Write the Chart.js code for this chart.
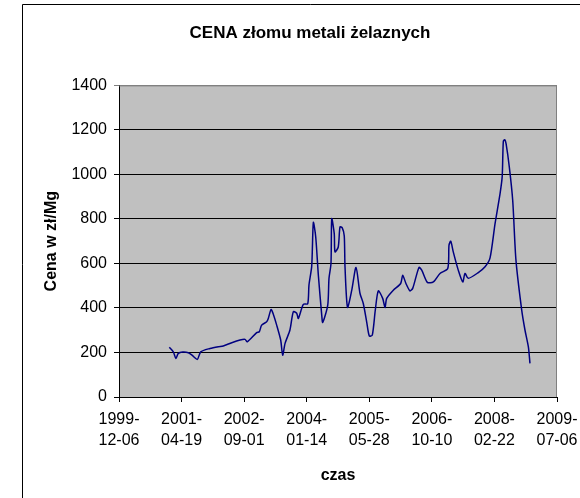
<!DOCTYPE html>
<html>
<head>
<meta charset="utf-8">
<script src="https://cdn.jsdelivr.net/npm/chart.js@4/dist/chart.umd.min.js"></script>
<style>
  html, body { margin: 0; padding: 0; background: #fff; overflow: hidden; width: 580px; height: 498px; }
  #wrap { position: absolute; left: 22px; top: 4px; width: 576px; height: 520px; }
  canvas { display: block; }
</style>
</head>
<body>
<div id="wrap"><canvas id="c" width="576" height="520"></canvas></div>
<script>
// Excel date serial numbers (days since 1899-12-30)
const daySerial = [36902,36934,36955,36974,37009,37054,37083,37126,37153,37227,
  37294,37333,37401,37467,37507,37525,37600,37621,37640,37680,
  37693,37715,37733,37760,37792,37808,37827,37866,37893,37920,
  37933,37973,38008,38018,38040,38053,38072,38093,38120,38128,
  38168,38178,38194,38200,38220,38226,38252,38266,38284,38300,
  38306,38326,38360,38394,38426,38452,38479,38500,38524,38548,
  38572,38607,38626,38639,38692,38751,38767,38793,38825,38847,
  38897,38919,38964,39012,39065,39127,39137,39151,39171,39211,
  39247,39265,39291,39371,39425,39465,39505,39545,39562,39571,
  39582,39593,39619,39646,39672,39718,39744,39771,39784];
// Cena w zł/Mg
const prices = [223,203,173,196,202,199,188,169,203,218,
  226,229,244,256,259,248,289,293,323,338,
  353,393,372,323,256,188,241,301,383,376,
  353,416,419,503,588,784,719,547,368,335,
  413,533,600,801,734,652,674,764,760,724,
  585,403,480,582,465,420,338,274,278,390,
  477,443,402,443,480,510,547,510,477,488,
  582,570,515,517,555,577,682,700,652,570,
  517,555,533,559,585,625,779,914,990,1148,
  1156,1138,1033,884,615,390,301,226,151];
const xTickValues = [36500,37000,37500,38000,38500,39000,39500,40000];
const xTickLabels = [["1999-","12-06"],["2001-","04-19"],["2002-","09-01"],["2004-","01-14"],
  ["2005-","05-28"],["2006-","10-10"],["2008-","02-22"],["2009-","07-06"]];
const yTicks = [0,200,400,600,800,1000,1200,1400];

const FONT = "'Liberation Sans', Arial, sans-serif";

const bgPlugin = {
  id: 'bg',
  beforeDraw(chart) {
    const {ctx, chartArea: a} = chart;
    ctx.save();
    ctx.fillStyle = '#fff';
    ctx.fillRect(0, 0, chart.width, chart.height);
    ctx.fillStyle = '#c0c0c0';
    ctx.fillRect(a.left, a.top, a.right - a.left, a.bottom - a.top);
    ctx.strokeStyle = '#000';
    ctx.lineWidth = 1;
    ctx.beginPath();
    ctx.moveTo(0.5, chart.height);
    ctx.lineTo(0.5, 0.5);
    ctx.lineTo(chart.width, 0.5);
    ctx.stroke();
    ctx.restore();
  },
  afterDatasetsDraw(chart) {
    const {ctx, chartArea: a} = chart;
    ctx.save();
    ctx.strokeStyle = '#808080';
    ctx.lineWidth = 1;
    ctx.beginPath();
    ctx.moveTo(a.left, a.top + 0.5);
    ctx.lineTo(a.right - 0.5, a.top + 0.5);
    ctx.lineTo(a.right - 0.5, a.bottom);
    ctx.stroke();
    ctx.restore();
  }
};

new Chart(document.getElementById('c'), {
  type: 'line',
  data: {
    datasets: [{
      data: daySerial.map((d, i) => ({x: d, y: prices[i]})),
      borderColor: '#000080',
      borderWidth: 1.5,
      pointRadius: 0,
      tension: 0.25,
      fill: false
    }]
  },
  options: {
    responsive: false,
    animation: false,
    devicePixelRatio: 1,
    layout: { padding: 0 },
    plugins: {
      legend: { display: false },
      tooltip: { enabled: false },
      title: {
        display: true,
        text: 'CENA złomu metali żelaznych',
        color: '#000',
        font: { family: FONT, size: 17, weight: 'bold', lineHeight: 1.2 },
        padding: { top: 19, bottom: 42 }
      }
    },
    scales: {
      x: {
        type: 'linear',
        min: 36500,
        max: 40000,
        afterBuildTicks(scale) { scale.ticks = xTickValues.map(v => ({value: v})); },
        afterFit(scale) { scale.height = 127; },
        ticks: {
          autoSkip: false,
          maxRotation: 0,
          padding: 7,
          color: '#000',
          font: { family: FONT, size: 16, lineHeight: 1.32 },
          callback: (v) => { const i = xTickValues.indexOf(v); return i >= 0 ? xTickLabels[i] : ''; }
        },
        grid: { drawOnChartArea: false, drawTicks: true, tickLength: 5, color: '#000' },
        border: { display: true, color: '#000', width: 1 },
        title: {
          display: true,
          text: 'czas',
          color: '#000',
          font: { family: FONT, size: 16, weight: 'bold', lineHeight: 1.2 },
          padding: { top: 0, bottom: 39 }
        }
      },
      y: {
        min: 0,
        max: 1400,
        afterBuildTicks(scale) { scale.ticks = yTicks.map(v => ({value: v})); },
        afterFit(scale) { scale.width = 97; },
        ticks: {
          padding: 7,
          color: '#000',
          font: { family: FONT, size: 16 },
          callback: (v) => String(v)
        },
        grid: {
          drawTicks: true,
          tickLength: 5,
          color: (ctx) => (ctx.tick && ctx.tick.value === 1400) ? '#808080' : '#000',
          lineWidth: 1
        },
        border: { display: true, color: '#000', width: 1 },
        title: {
          display: true,
          text: 'Cena w zł/Mg',
          color: '#000',
          font: { family: FONT, size: 16, weight: 'bold', lineHeight: 1.2 },
          padding: { top: 20, bottom: 0 }
        }
      },
      yRightSpace: {
        type: 'linear',
        position: 'right',
        display: true,
        min: 0,
        max: 1400,
        afterFit(scale) { scale.width = 41; },
        ticks: { display: false },
        grid: { display: false, drawTicks: false },
        border: { display: false }
      }
    }
  },
  plugins: [bgPlugin]
});
</script>
</body>
</html>
